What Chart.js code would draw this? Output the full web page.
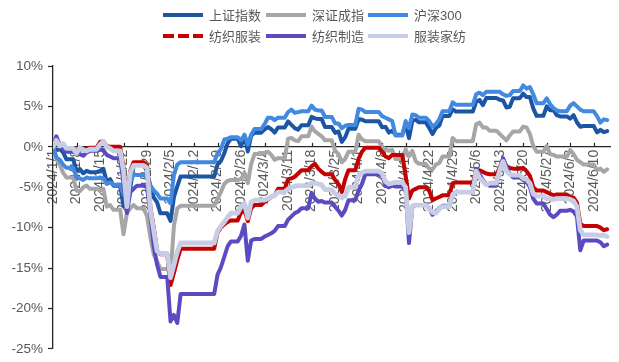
<!DOCTYPE html>
<html>
<head>
<meta charset="utf-8">
<script src="https://cdn.jsdelivr.net/npm/chart.js@4.4.1/dist/chart.umd.min.js"></script>
<style>
  html, body { margin: 0; padding: 0; background: #ffffff; }
  #wrap { width: 619px; height: 362px; position: relative; }
</style>
</head>
<body>
<div id="wrap"><canvas id="chart"></canvas></div>
<script>
// Dates (2024): every trading day, plus the last calendar day before each
// reopening, where the previous close is carried over.
const days = [
  '1/1','1/2','1/3','1/4','1/5','1/7',
  '1/8','1/9','1/10','1/11','1/12','1/14',
  '1/15','1/16','1/17','1/18','1/19','1/21',
  '1/22','1/23','1/24','1/25','1/26','1/28',
  '1/29','1/30','1/31','2/1','2/2','2/4',
  '2/5','2/6','2/7','2/8','2/18',
  '2/19','2/20','2/21','2/22','2/23','2/25',
  '2/26','2/27','2/28','2/29','3/1','3/3',
  '3/4','3/5','3/6','3/7','3/8','3/10',
  '3/11','3/12','3/13','3/14','3/15','3/17',
  '3/18','3/19','3/20','3/21','3/22','3/24',
  '3/25','3/26','3/27','3/28','3/29','3/31',
  '4/1','4/2','4/3','4/7',
  '4/8','4/9','4/10','4/11','4/12','4/14',
  '4/15','4/16','4/17','4/18','4/19','4/21',
  '4/22','4/23','4/24','4/25','4/26','4/28',
  '4/29','4/30','5/5',
  '5/6','5/7','5/8','5/9','5/10','5/12',
  '5/13','5/14','5/15','5/16','5/17','5/19',
  '5/20','5/21','5/22','5/23','5/24','5/26',
  '5/27','5/28','5/29','5/30','5/31','6/2',
  '6/3','6/4','6/5','6/6','6/7','6/10',
  '6/11','6/12','6/13','6/14'
];

// Cumulative change since the start of the year, %
const shComposite = [
  0, -0.43, -0.26, -0.69, -1.54, -1.54,
  -2.94, -2.75, -3.27, -2.97, -3.13, -3.13,
  -2.98, -2.72, -4.34, -4.01, -4.80, -4.80,
  -7.35, -6.87, -5.18, -2.31, -2.18, -2.18,
  -3.08, -4.85, -6.27, -6.87, -8.23, -8.23,
  -9.17, -6.23, -4.88, -3.66, -3.66,
  -2.16, -1.75, -0.80, 0.45, 1.01, 1.01,
  0.07, 1.36, -0.57, 1.35, 1.75, 1.75,
  2.16, 2.45, 2.18, 1.76, 2.39, 2.39,
  3.14, 2.72, 2.32, 2.13, 2.68, 2.68,
  3.70, 3.52, 3.43, 3.43, 2.46, 2.46,
  1.73, 1.90, 0.61, 1.20, 2.23, 2.23,
  3.44, 3.36, 3.17, 3.17,
  2.42, 2.47, 1.76, 1.99, 1.50, 1.50,
  2.77, 1.08, 3.24, 3.34, 3.03, 3.03,
  2.34, 1.58, 2.35, 2.62, 3.82, 3.82,
  4.64, 4.37, 4.37,
  5.57, 5.81, 5.16, 6.03, 6.04, 6.04,
  5.82, 5.74, 4.87, 4.96, 6.02, 6.02,
  6.59, 6.15, 6.17, 4.76, 3.83, 3.83,
  5.01, 4.53, 4.57, 3.92, 3.76, 3.76,
  3.48, 3.91, 3.04, 2.48, 2.57, 2.57,
  1.78, 2.10, 1.81, 1.94
];

const szComponent = [
  0, -1.5, -2.2, -3.2, -3.8, -3.8,
  -5.4, -5.5, -5.0, -4.8, -5.2, -5.2,
  -5.4, -5.2, -7.4, -7.2, -7.8, -7.8,
  -10.8, -8.2, -7.6, -7.2, -7.6, -7.6,
  -8.6, -11.2, -13.3, -14.2, -15.1, -15.1,
  -15.8, -9.8, -7.6, -7.3, -7.3,
  -6.4, -5.6, -4.6, -4.2, -4.1, -4.1,
  -4.0, -3.2, -4.5, -2.1, -0.9, -0.9,
  -0.8, -0.6, -1.0, -1.6, -1.4, -1.4,
  1.0, 1.1, 0.8, 0.7, 1.3, 1.3,
  2.5, 1.9, 1.6, 1.3, 0.8, 0.8,
  -0.5, -0.9, -1.9, -1.5, -0.6, -0.6,
  1.5, 0.9, 0.7, 0.7,
  0.0, -0.3, -0.5, -0.4, -1.5, -1.5,
  -0.3, -1.2, -0.5, -1.8, -2.1, -2.1,
  -2.7, -2.8, -2.2, -2.0, -1.2, -1.2,
  1.1, 0.7, 0.7,
  2.8, 3.0, 2.4, 2.4, 2.0, 2.0,
  1.6, 1.2, 0.8, 1.4, 1.9, 1.9,
  2.5, 2.4, 1.6, 0.1, -0.6, -0.6,
  0.1, -0.9, -1.0, -1.2, -1.2, -1.2,
  -0.4, -0.9, -1.6, -1.9, -2.2, -2.2,
  -2.9, -2.7, -3.1, -2.8
];

const csi300 = [
  0, -1.3, -1.6, -2.2, -2.6, -2.6,
  -3.8, -3.9, -4.1, -3.8, -3.9, -3.9,
  -3.8, -3.9, -4.6, -4.4, -4.7, -4.7,
  -5.9, -5.7, -4.3, -3.4, -3.5, -3.5,
  -3.8, -4.8, -5.4, -5.8, -6.4, -6.4,
  -7.0, -3.5, -2.2, -1.9, -1.9,
  -0.8, -0.3, 0.9, 1.0, 1.2, 1.2,
  0.8, 1.5, 0.3, 1.5, 2.2, 2.2,
  2.8, 3.6, 3.6, 3.3, 3.6, 3.6,
  4.3, 4.6, 4.2, 4.3, 4.4, 4.4,
  5.1, 4.6, 4.5, 4.5, 3.7, 3.7,
  2.9, 2.9, 2.3, 2.6, 2.7, 2.7,
  4.7, 4.6, 4.3, 4.3,
  3.8, 3.6, 3.4, 3.2, 1.4, 1.4,
  3.2, 2.3, 4.0, 3.9, 3.6, 3.6,
  3.2, 2.5, 2.8, 3.4, 4.4, 4.4,
  5.5, 5.2, 5.2,
  6.5, 6.7, 6.4, 6.8, 6.8, 6.8,
  6.8, 6.5, 6.3, 6.4, 6.9, 6.9,
  7.6, 7.2, 7.4, 6.5, 5.4, 5.4,
  6.0, 5.3, 4.8, 4.5, 4.4, 4.4,
  5.1, 5.4, 5.0, 4.6, 4.4, 4.4,
  3.8, 3.0, 3.4, 3.3
];

const textileApparel = [
  0, 0.5, 0.4, 0.0, -0.3, -0.3,
  -0.4, -0.3, -0.4, -0.2, -0.1, -0.1,
  0.6, 0.7, 0.1, 0.0, 0.0, 0.0,
  -2.5, -6.8, -3.0, -1.9, -1.9, -1.9,
  -2.3, -7.5, -10.0, -12.8, -13.3, -13.3,
  -17.1, -15.6, -14.0, -12.6, -12.6,
  -10.6, -10.0, -9.6, -9.3, -9.1, -9.1,
  -8.1, -7.8, -9.2, -7.6, -7.2, -7.2,
  -6.8, -6.5, -6.2, -6.0, -5.2, -5.2,
  -4.0, -3.9, -3.7, -3.3, -2.9, -2.9,
  -2.4, -2.1, -2.7, -3.1, -3.4, -3.4,
  -4.1, -4.6, -5.6, -4.0, -2.9, -2.9,
  -1.5, -0.6, -0.1, -0.1,
  -0.6, -1.2, -1.4, -1.0, -1.0, -1.0,
  -3.6, -6.4, -5.4, -5.2, -5.0, -5.0,
  -5.4, -6.6, -6.4, -6.2, -6.0, -6.0,
  -4.5, -4.4, -4.4,
  -3.2, -2.9, -3.1, -3.3, -3.4, -3.4,
  -2.6, -1.5, -2.4, -2.6, -2.7, -2.7,
  -2.6, -3.0, -3.6, -5.0, -5.4, -5.4,
  -5.6, -5.8, -6.0, -5.9, -5.9, -5.9,
  -6.2, -6.3, -6.9, -9.5, -9.8, -9.8,
  -9.8, -10.0, -10.3, -10.2
];

const textileManufacturing = [
  0, 1.3, 0.2, -0.3, -0.6, -0.6,
  -0.8, -0.9, -1.1, -0.7, -0.5, -0.5,
  -0.3, -0.4, -1.0, -1.2, -1.4, -1.4,
  -4.5, -8.2, -5.6, -5.2, -4.8, -4.8,
  -5.0, -8.4, -12.3, -14.6, -16.1, -16.1,
  -21.6, -20.8, -21.8, -18.2, -18.2,
  -15.8, -14.9, -13.6, -12.3, -11.7, -11.7,
  -11.0, -9.6, -14.1, -11.6, -11.4, -11.4,
  -11.1, -10.9, -10.7, -10.4, -9.8, -9.8,
  -9.0, -8.6, -8.2, -8.0, -7.6, -7.6,
  -5.7, -6.4, -6.8, -6.7, -6.9, -6.9,
  -7.4, -7.9, -8.5, -7.8, -6.6, -6.6,
  -5.4, -4.6, -3.4, -3.4,
  -3.6, -4.8, -5.0, -4.8, -4.9, -4.9,
  -5.4, -11.9, -7.4, -7.2, -7.2, -7.2,
  -7.6, -8.4, -8.0, -7.6, -7.3, -7.3,
  -5.9, -5.6, -5.6,
  -2.7, -3.4, -4.1, -4.6, -4.8, -4.8,
  -3.0, -1.4, -2.4, -3.3, -3.8, -3.8,
  -4.1, -4.3, -5.0, -6.4, -7.0, -7.0,
  -7.7, -8.4, -8.7, -8.4, -7.9, -7.9,
  -7.8, -8.0, -8.6, -12.8, -11.6, -11.6,
  -11.6, -11.8, -12.3, -12.1
];

const apparelHomeTextile = [
  0, 0.8, 0.1, 0.4, -0.2, -0.2,
  -0.8, -0.1, -0.4, -0.5, -0.3, -0.3,
  0.3, 0.7, 0.0, -0.2, -0.5, -0.5,
  -3.0, -7.4, -3.2, -2.3, -2.3, -2.3,
  -2.6, -7.8, -10.4, -12.9, -13.2, -13.2,
  -16.2, -14.6, -13.0, -11.9, -11.9,
  -10.4, -9.8, -9.3, -8.7, -8.2, -8.2,
  -7.4, -7.0, -8.8, -6.8, -6.6, -6.6,
  -6.6, -6.4, -6.2, -6.0, -5.6, -5.6,
  -5.2, -5.0, -4.9, -4.8, -4.8, -4.8,
  -4.5, -4.5, -4.6, -4.7, -5.3, -5.3,
  -5.8, -6.0, -6.3, -6.1, -5.0, -5.0,
  -3.5, -3.2, -3.0, -3.0,
  -3.3, -4.3, -4.6, -4.5, -4.4, -4.4,
  -5.0, -10.6, -7.3, -7.2, -7.2, -7.2,
  -7.7, -8.1, -8.2, -7.7, -7.4, -7.4,
  -5.9, -5.6, -5.6,
  -3.0, -3.8, -4.3, -4.7, -4.5, -4.5,
  -2.9, -1.8, -3.0, -3.4, -3.5, -3.5,
  -3.9, -4.0, -4.5, -5.8, -6.1, -6.1,
  -6.4, -6.4, -6.5, -6.4, -6.4, -6.4,
  -6.5, -6.7, -7.4, -10.3, -10.9, -10.9,
  -10.9, -11.0, -10.9, -11.1
];

// Weekly axis labels
const tickLabels = [
  '2024/1/1','2024/1/8','2024/1/15','2024/1/22','2024/1/29','2024/2/5',
  '2024/2/12','2024/2/19','2024/2/26','2024/3/4','2024/3/11','2024/3/18',
  '2024/3/25','2024/4/1','2024/4/8','2024/4/15','2024/4/22','2024/4/29',
  '2024/5/6','2024/5/13','2024/5/20','2024/5/27','2024/6/3','2024/6/10'
];

const seriesNames = ['上证指数', '深证成指', '沪深300', '纺织服装', '纺织制造', '服装家纺'];
const seriesValues = [shComposite, szComponent, csi300, textileApparel, textileManufacturing, apparelHomeTextile];
const seriesColors = ['#1B55A3', '#A6A6A6', '#4189E1', '#C40000', '#5A4BC3', '#C8CDE6'];
const seriesWidths = [4, 4, 4, 4, 4, 4.8];
const legendDashes = [[], [], [], [11, 4], [], []];

// Day number counted from 1 January 2024
const DAY_MS = 86400000;
function dayNumber(text) {
  const parts = text.split('/').map(Number);
  const [m, d] = parts.length === 3 ? [parts[1], parts[2]] : parts;
  return Math.round((Date.UTC(2024, m - 1, d) - Date.UTC(2024, 0, 1)) / DAY_MS);
}
const xs = days.map(dayNumber);
const tickDays = tickLabels.map(dayNumber);

const AXIS_COLOR = '#262626';
const TEXT_COLOR = '#595959';
const LATIN_FONT = '"Liberation Sans", Arial, "Noto Sans CJK SC", sans-serif';

const datasets = seriesNames.map((name, i) => ({
  label: name,
  data: xs.map((x, k) => ({ x: x, y: seriesValues[i][k] })),
  borderColor: seriesColors[i],
  backgroundColor: seriesColors[i],
  borderWidth: seriesWidths[i],
  borderJoinStyle: 'round',
  borderCapStyle: 'round',
  pointRadius: 0,
  tension: 0,
  fill: false,
  order: seriesNames.length - i
}));

// Small tick marks standing up from the zero line
const zeroLineTicks = {
  id: 'zeroLineTicks',
  beforeDatasetsDraw(chart) {
    const { ctx, scales } = chart;
    const y0 = scales.y.getPixelForValue(0);
    ctx.save();
    ctx.strokeStyle = AXIS_COLOR;
    ctx.lineWidth = 1.2;
    scales.x.ticks.forEach(t => {
      const px = Math.round(scales.x.getPixelForValue(t.value)) + 0.5;
      ctx.beginPath();
      ctx.moveTo(px, y0);
      ctx.lineTo(px, y0 - 4);
      ctx.stroke();
    });
    ctx.restore();
  }
};

// Two-row legend, three entries per row
const legendGrid = { rowY: [15, 36], colX: [163, 266, 368], lineLen: 40, gap: 6 };
const gridLegend = {
  id: 'gridLegend',
  afterDraw(chart) {
    const ctx = chart.ctx;
    chart.data.datasets.forEach((ds, i) => {
      const x = legendGrid.colX[i % 3];
      const y = legendGrid.rowY[Math.floor(i / 3)];
      ctx.save();
      ctx.strokeStyle = ds.borderColor;
      ctx.lineWidth = 4;
      ctx.lineCap = 'butt';
      ctx.setLineDash(legendDashes[i]);
      ctx.beginPath();
      ctx.moveTo(x, y);
      ctx.lineTo(x + legendGrid.lineLen, y);
      ctx.stroke();
      ctx.setLineDash([]);
      ctx.fillStyle = TEXT_COLOR;
      ctx.font = '13px ' + LATIN_FONT;
      ctx.textBaseline = 'middle';
      ctx.textAlign = 'left';
      ctx.fillText(ds.label, x + legendGrid.lineLen + legendGrid.gap, y + 1);
      ctx.restore();
    });
  }
};

new Chart(document.getElementById('chart'), {
  type: 'line',
  data: { datasets: datasets },
  plugins: [zeroLineTicks, gridLegend],
  options: {
    responsive: true,
    maintainAspectRatio: false,
    animation: false,
    events: [],
    layout: { padding: { top: 66, bottom: 8, left: 0, right: 8.5 } },
    plugins: {
      legend: { display: false },
      tooltip: { enabled: false }
    },
    scales: {
      x: {
        type: 'linear',
        min: 0,
        max: 166,
        position: { y: 0 },
        afterBuildTicks(scale) {
          scale.ticks = tickDays.map(v => ({ value: v }));
        },
        grid: { display: false, drawTicks: false },
        border: { display: true, color: AXIS_COLOR, width: 1.3 },
        ticks: {
          autoSkip: false,
          minRotation: 90,
          maxRotation: 90,
          padding: 3,
          color: TEXT_COLOR,
          font: { family: LATIN_FONT, size: 14 },
          callback: (value, index) => tickLabels[index]
        }
      },
      y: {
        type: 'linear',
        position: 'left',
        min: -25,
        max: 10,
        afterFit(scale) { scale.width = 53; },
        grid: {
          drawOnChartArea: false,
          drawTicks: true,
          tickLength: 5,
          tickColor: AXIS_COLOR,
          tickWidth: 1.2
        },
        border: { display: true, color: AXIS_COLOR, width: 1.3 },
        ticks: {
          stepSize: 5,
          padding: 5,
          color: TEXT_COLOR,
          font: { family: LATIN_FONT, size: 13.5 },
          callback: v => v + '%'
        }
      }
    }
  }
});
</script>
</body>
</html>
